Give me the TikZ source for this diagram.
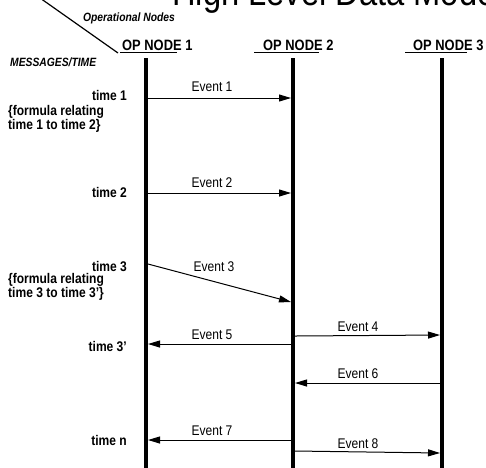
\documentclass[tikz,border=0pt]{standalone}
\usepackage{fontspec}
\setmainfont{Liberation Sans}[FakeStretch=0.86]
\usetikzlibrary{arrows.meta}
\begin{document}
\begin{tikzpicture}[x=1pt,y=-1pt,
  lifeline/.style={line width=3.8pt},
  msg/.style={line width=1pt,-{Triangle[length=12pt,width=7pt]}},
  evlabel/.style={font=\fontsize{14}{15}\selectfont,inner sep=0pt},
  timelabel/.style={font=\fontsize{14}{15}\selectfont\bfseries,inner sep=0pt,anchor=east},
  formula/.style={font=\fontsize{14}{14}\selectfont\bfseries,inner sep=0pt,anchor=north west,align=left},
  header/.style={font=\fontsize{15}{16}\selectfont\bfseries,inner sep=0pt,anchor=base west},
  axislabel/.style={font=\fontsize{12}{14}\selectfont\bfseries\itshape,inner sep=0pt},
  uline/.style={line width=1pt}]
\clip (0,0) rectangle (486,467);
\useasboundingbox (0,0) rectangle (486,467);
\fill[white] (0,0) rectangle (486,467);

% title (cut off at top, as in the reference)
\node[font=\fontsize{38}{40}\selectfont,inner sep=0pt,anchor=base west] (title) at (172,5) {High Level Data Mode};

% corner header
\coordinate (d1) at (40,-2);
\coordinate (d2) at (118,53);
\draw[line width=1.2pt] (d1) -- (d2);
\node[axislabel] (opn) at (129,18) {Operational Nodes};
\node[axislabel,anchor=west] (msgt) at (10,62) {MESSAGES/TIME};

% node headers
\node[header] (h1) at (122,50) {OP NODE 1};
\node[header] (h2) at (263,50) {OP NODE 2};
\node[header] (h3) at (413,50) {OP NODE 3};
\coordinate (u1a) at (120,52); \coordinate (u1b) at (177,52);
\coordinate (u2a) at (254,52); \coordinate (u2b) at (319,52);
\coordinate (u3a) at (405,52); \coordinate (u3b) at (467,52);
\draw[uline] (u1a) -- (u1b);
\draw[uline] (u2a) -- (u2b);
\draw[uline] (u3a) -- (u3b);

% lifelines
\coordinate (L1) at (146,58); \coordinate (L1b) at (146,470);
\coordinate (L2) at (293,58); \coordinate (L2b) at (293,470);
\coordinate (L3) at (442,58); \coordinate (L3b) at (442,470);
\draw[lifeline] (L1) -- (L1b);
\draw[lifeline] (L2) -- (L2b);
\draw[lifeline] (L3) -- (L3b);

% message end points
\coordinate (e1s) at (148,98);  \coordinate (e1t) at (291,98);
\coordinate (e2s) at (148,193); \coordinate (e2t) at (291,193);
\coordinate (e3s) at (148,264); \coordinate (e3t) at (291,302);
\coordinate (e4s) at (295,336); \coordinate (e4t) at (440,335);
\coordinate (e5s) at (291,344); \coordinate (e5t) at (148,344);
\coordinate (e6s) at (440,383); \coordinate (e6t) at (295,383);
\coordinate (e7s) at (291,440); \coordinate (e7t) at (148,440);
\coordinate (e8s) at (295,451); \coordinate (e8t) at (440,453);

\draw[msg] (e1s) -- (e1t);
\draw[msg] (e2s) -- (e2t);
\draw[msg] (e3s) -- (e3t);
\draw[msg] (e4s) -- (e4t);
\draw[msg] (e5s) -- (e5t);
\draw[msg] (e6s) -- (e6t);
\draw[msg] (e7s) -- (e7t);
\draw[msg] (e8s) -- (e8t);

% event labels
\node[evlabel] (ev1) at (212,87) {Event 1};
\node[evlabel] (ev2) at (212,183) {Event 2};
\node[evlabel] (ev3) at (214,267) {Event 3};
\node[evlabel] (ev4) at (358,327) {Event 4};
\node[evlabel] (ev5) at (212,335) {Event 5};
\node[evlabel] (ev6) at (358,374) {Event 6};
\node[evlabel] (ev7) at (212,431) {Event 7};
\node[evlabel] (ev8) at (358,444) {Event 8};

% time labels
\node[timelabel] (t1) at (127,95) {time 1};
\node[formula] (f1) at (8,105) {\{formula relating\\time 1 to time 2\}};
\node[timelabel] (t2) at (127,192) {time 2};
\node[timelabel] (t3) at (127,266) {time 3};
\node[formula] (f3) at (8,273) {\{formula relating\\time 3 to time 3'\}};
\node[timelabel] (t3p) at (127,346) {time 3'};
\node[timelabel] (tn) at (127,440) {time n};
\end{tikzpicture}
\end{document}
